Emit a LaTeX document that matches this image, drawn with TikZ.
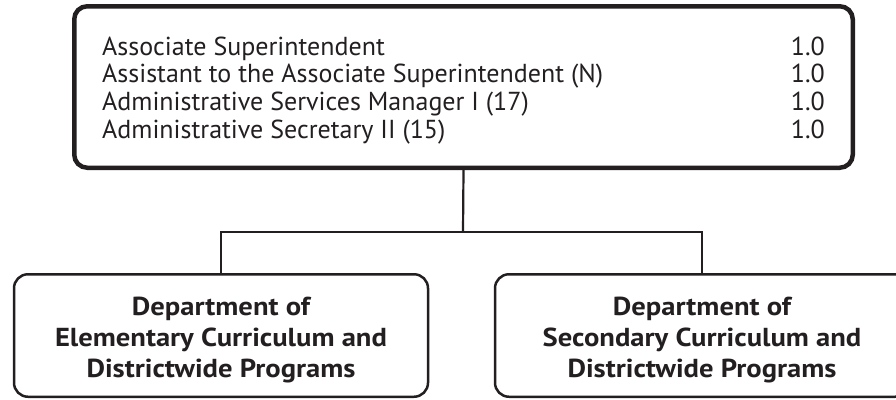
\documentclass[tikz,border=0pt]{standalone}
\usepackage{fontspec}
\setmainfont{PT Sans}
\newfontfamily\deptfont[FakeStretch=1.1]{PT Sans}
\definecolor{ink}{HTML}{231F20}
\begin{document}
\begin{tikzpicture}[x=1pt,y=-1pt,
  topbox/.style={draw=ink, line width=4.5pt, rounded corners=13pt, minimum width=778.5pt, minimum height=161.5pt, inner sep=0pt},
  deptbox/.style={draw=ink, line width=2.5pt, rounded corners=14pt, minimum width=414pt, minimum height=122.5pt, inner sep=0pt},
  link/.style={draw=ink, line width=2.2pt},
  role/.style={anchor=base west, inner sep=0pt, text=ink, font=\fontsize{26}{28}\selectfont},
  fte/.style={anchor=base east, inner sep=0pt, text=ink, font=\fontsize{26}{28}\selectfont},
  dept/.style={anchor=base, inner sep=0pt, text=ink, font=\deptfont\fontsize{26}{31}\selectfont\bfseries}]
\useasboundingbox (0,0) rectangle (896,399);
\clip (0,0) rectangle (896,399);
\node[topbox] (top) at (463.5,87) {};
\node[deptbox] (left) at (221,335.5) {};
\node[deptbox] (right) at (702,335.5) {};
\coordinate (j) at (463,232);
\draw[link] (top.south) -- (j);
\draw[link] (left.north) |- (j) -| (right.north);
\node[role] (r1) at (102,55) {Associate Superintendent};
\node[role] (r2) at (102,82.7) {Assistant to the Associate Superintendent (N)};
\node[role] (r3) at (102,110.4) {Administrative Services Manager I (17)};
\node[role] (r4) at (102,138) {Administrative Secretary II (15)};
\node[fte] (f1) at (825,55) {1.0};
\node[fte] (f2) at (825,82.7) {1.0};
\node[fte] (f3) at (825,110.4) {1.0};
\node[fte] (f4) at (825,138) {1.0};
\node[dept] (l1) at (221,315) {Department of};
\node[dept] (l2) at (221,346) {Elementary Curriculum and};
\node[dept] (l3) at (221,377) {Districtwide Programs};
\node[dept] (s1) at (702,315) {Department of};
\node[dept] (s2) at (702,346) {Secondary Curriculum and};
\node[dept] (s3) at (702,377) {Districtwide Programs};
\end{tikzpicture}
\end{document}
